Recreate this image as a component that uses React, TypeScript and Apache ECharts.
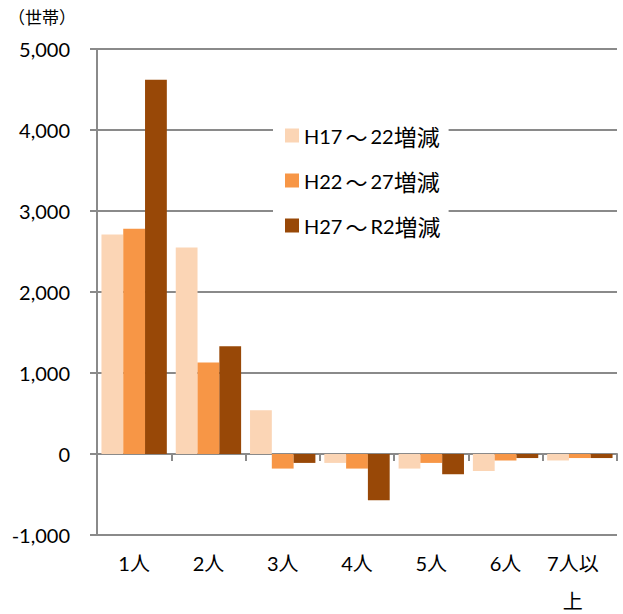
import React, { useEffect, useRef } from "react";
import * as echarts from "echarts";

const categories = ["1人", "2人", "3人", "4人", "5人", "6人", "7人以上"];
const seriesNames = ["H17～22増減", "H22～27増減", "H27～R2増減"];
const h17_22 = [2710, 2550, 540, -110, -180, -210, -80];
const h22_27 = [2780, 1130, -180, -180, -110, -80, -50];
const h27_r2 = [4620, 1330, -110, -570, -250, -50, -50];
const colors = ["#FBD5B5", "#F79646", "#984807"];
const yTicks = { min: -1000, max: 5000, interval: 1000 };
const unitLabel = "（世帯）";

const FONT = "Lato, 'Noto Sans CJK JP', sans-serif";
const CJK = "'Noto Sans CJK JP', sans-serif";

function richName(name: string) {
  const parts = name.match(/[A-Za-z0-9]+|[^A-Za-z0-9]+/g) || [name];
  return parts
    .map((p) => (/^[A-Za-z0-9]+$/.test(p) ? `{a|${p}}` : p === "～" ? `{t|${p}}` : `{b|${p}}`))
    .join("");
}

export default function App() {
  const ref = useRef<HTMLDivElement>(null);
  useEffect(() => {
    if (!ref.current) return;
    const chart = echarts.init(ref.current, null, { renderer: "svg" });
    const data = [h17_22, h22_27, h27_r2];
    chart.setOption({
      animation: false,
      textStyle: { fontFamily: FONT },
      grid: { left: 97, right: 6, top: 49, bottom: 79, outerBoundsMode: "none", containLabel: false },
      graphic: [
        {
          type: "text",
          left: 8,
          top: 9,
          style: { text: unitLabel, font: `17px ${FONT}`, fill: "#000" },
        },
      ],
      legend: {
        orient: "vertical",
        left: 273,
        top: 115,
        padding: [9, 8, 14, 12],
        backgroundColor: "#fff",
        itemWidth: 14,
        itemHeight: 14,
        itemGap: 22,
        icon: "rect",
        data: seriesNames,
        formatter: (n: string) => richName(n),
        textStyle: {
          fontSize: 20,
          color: "#000",
          fontFamily: FONT,
          rich: {
            a: { fontSize: 20, fontFamily: FONT, color: "#000" },
            t: { fontSize: 22, fontFamily: CJK, color: "#000", padding: [0, 3, 0, 3] },
            b: { fontSize: 23, fontFamily: CJK, color: "#000" },
          },
        },
        z: 10,
      },
      xAxis: [
        {
          type: "category",
          data: categories,
          axisLine: { onZero: true, lineStyle: { color: "#8a8a8a", width: 2 } },
          axisTick: { show: true, length: 7, lineStyle: { color: "#8a8a8a", width: 2 } },
          axisLabel: { show: false },
          splitLine: { show: false },
        },
        {
          type: "category",
          data: categories.map((c) =>
            c.length > 3
              ? { value: c.slice(0, 3) + "\n" + c.slice(3), textStyle: { padding: [0, 14, 0, 0] } }
              : c
          ),
          position: "bottom",
          axisLine: { show: false, onZero: false },
          axisTick: { show: false },
          axisLabel: {
            fontSize: 20,
            color: "#000",
            margin: 9,
            lineHeight: 38,
            fontFamily: FONT,
          },
        },
      ],
      yAxis: {
        type: "value",
        min: yTicks.min,
        max: yTicks.max,
        interval: yTicks.interval,
        axisLine: { show: true, lineStyle: { color: "#8a8a8a", width: 2 } },
        axisTick: { show: true, length: 7, lineStyle: { color: "#8a8a8a", width: 2 } },
        splitLine: { lineStyle: { color: "#8a8a8a", width: 2 } },
        axisLabel: {
          fontSize: 20,
          color: "#000",
          margin: 27,
          fontFamily: FONT,
          formatter: (v: number) => v.toLocaleString("en-US"),
        },
      },
      series: seriesNames.map((name, i) => ({
        name,
        type: "bar",
        xAxisIndex: 0,
        data: data[i],
        barGap: "0%",
        barCategoryGap: "12%",
        itemStyle: { color: colors[i] },
        z: 2,
      })),
    });
    return () => chart.dispose();
  }, []);
  return <div ref={ref} style={{ width: 623, height: 614, position: "absolute", left: 0, top: 0 }} />;
}
